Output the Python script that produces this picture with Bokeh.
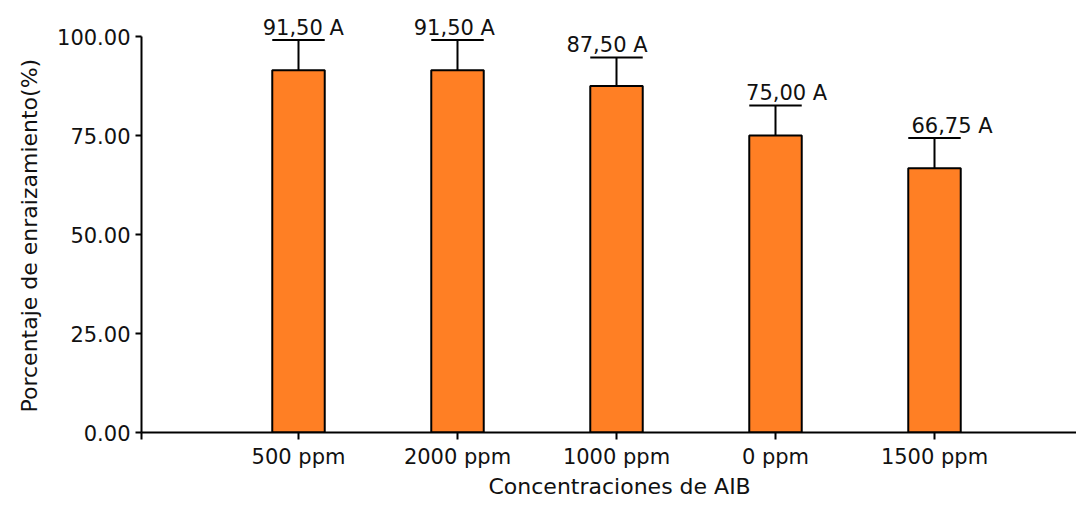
from bokeh.plotting import figure
from bokeh.models import Range1d, FixedTicker, NumeralTickFormatter, ColumnDataSource, LabelSet, Title
from bokeh.core.properties import value
from bokeh.embed import file_html
from bokeh.resources import INLINE

# ---- data ----
categories = ["500 ppm", "2000 ppm", "1000 ppm", "0 ppm", "1500 ppm"]
means = [91.50, 91.50, 87.50, 75.00, 66.75]
errors = [7.6, 7.6, 7.2, 7.6, 7.6]
letters = ["A", "A", "A", "A", "A"]
y_ticks = [0, 25, 50, 75, 100]
x_title = "Concentraciones de AIB"
y_title = "Porcentaje de enraizamiento(%)"

# ---- style ----
FONT = "DejaVu Sans"
BAR_COLOR = "#FF7F24"
TXT = "#111111"
BAR_W = 0.33
label_dx = [0.03, -0.02, -0.06, 0.07, 0.11]  # label nudges in category units
W, H = 1076, 498
TOP, BOTTOM, LEFT = 12, 432, 141
px_per_unit = (BOTTOM - 36) / 100.0

xs = [i + 1 for i in range(len(categories))]
tops = [m + e for m, e in zip(means, errors)]
texts = [f"{m:.2f}".replace(".", ",") + " " + l for m, l in zip(means, letters)]

x_start = 1 - 157 / 159
x_end = 1 + (W - 298) / 159
y_end = 100 + (36 - TOP) / px_per_unit

p = figure(width=W, height=H, output_backend="svg", toolbar_location=None,
           x_range=Range1d(x_start, x_end), y_range=Range1d(0, y_end),
           min_border_left=LEFT, min_border_right=0, min_border_top=TOP,
           min_border_bottom=H - BOTTOM)
p.outline_line_color = None
p.xgrid.visible = False
p.ygrid.visible = False
p.background_fill_color = "white"
p.border_fill_color = "white"

src = ColumnDataSource(dict(x=xs, m=means, top=tops, txt=texts,
                            lx=[x + d for x, d in zip(xs, label_dx)],
                            cl=[x - BAR_W / 2 for x in xs], cr=[x + BAR_W / 2 for x in xs]))

p.segment(x0="x", y0="m", x1="x", y1="top", source=src, line_color="black", line_width=2)
p.segment(x0="cl", y0="top", x1="cr", y1="top", source=src, line_color="black", line_width=2)
p.vbar(x="x", top="m", bottom=0, width=BAR_W, source=src, fill_color=BAR_COLOR,
       line_color="black", line_width=2)

labels = LabelSet(x="lx", y="top", text="txt", source=src, text_align="center",
                  text_baseline="alphabetic", y_offset=5, text_font=value(FONT),
                  text_font_size="21px", text_color=TXT)
p.add_layout(labels)

# axes
ax = p.xaxis[0]
ax.ticker = FixedTicker(ticks=[x_start] + xs)
ax.major_label_overrides = {**{x_start: ""}, **{x: c for x, c in zip(xs, categories)}}
ax.minor_tick_line_color = None
ax.major_tick_in = 0
ax.major_tick_out = 7
ax.axis_line_width = 2
ax.major_tick_line_width = 2
ax.major_label_standoff = 5
ax.major_label_text_font = FONT
ax.major_label_text_font_size = "21px"
ax.major_label_text_color = TXT

ay = p.yaxis[0]
ay.bounds = (0, 100)
ay.ticker = FixedTicker(ticks=y_ticks)
ay.formatter = NumeralTickFormatter(format="0.00")
ay.minor_tick_line_color = None
ay.major_tick_in = 0
ay.major_tick_out = 6
ay.axis_line_width = 2
ay.major_tick_line_width = 2
ay.major_label_standoff = 5
ay.major_label_text_font = FONT
ay.major_label_text_font_size = "21px"
ay.major_label_text_color = TXT

# axis titles as side titles (not clipped to the frame)
p.add_layout(Title(text=x_title, align="left", offset=347, standoff=0,
                   text_font=FONT, text_font_size="22px", text_font_style="normal",
                   text_color=TXT), "below")
p.add_layout(Title(text=y_title, align="left", offset=20, standoff=25,
                   text_font=FONT, text_font_size="22px", text_font_style="normal",
                   text_color=TXT), "left")

open("out.html", "w").write(file_html(p, INLINE))
